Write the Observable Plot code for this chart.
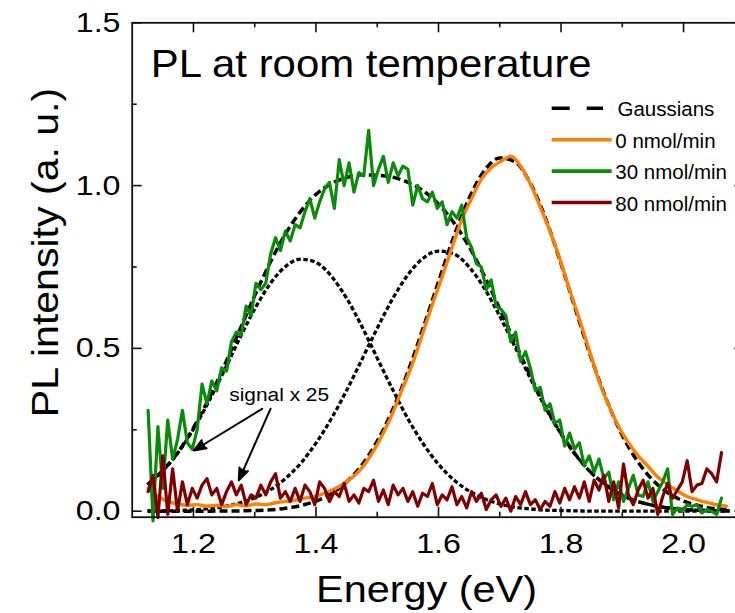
<!DOCTYPE html>
<html><head><meta charset="utf-8">
<script src="https://cdn.jsdelivr.net/npm/d3@7"></script>
<script src="https://cdn.jsdelivr.net/npm/@observablehq/plot@0.6"></script>
<style>
html,body{margin:0;padding:0;background:#fff;overflow:hidden;}
#chart{position:relative;width:735px;height:613px;overflow:hidden;}
</style></head><body><div id="chart"></div>
<script>
// ---- measured spectra (energy grid of the spectrometer) ----
const gridStart = 1.126, gridStep = 0.008;
// 30 nmol/min (signal x 25)
const pl30 = [.31,-.03,.26,.07,.28,.16,.22,.31,.21,.19,
  .25,.39,.33,.40,.37,.44,.43,.52,.55,.54,
  .63,.60,.70,.68,.70,.79,.84,.80,.86,.83,
  .88,.87,.92,.96,.90,.95,.99,1.01,.93,1.08,
  1.00,1.07,.98,1.04,1.03,1.17,1.00,1.05,1.09,1.01,
  1.07,1.03,1.06,1.05,.94,1.00,.96,.95,.98,.93,
  .95,.88,.92,.90,.94,.84,.81,.76,.75,.68,
  .71,.63,.62,.60,.52,.55,.46,.49,.44,.37,
  .38,.31,.33,.27,.28,.20,.24,.19,.21,.14,
  .17,.12,.16,.10,.12,.035,.09,.03,.07,.11,
  .05,.045,.09,.03,.06,.09,.13,-.01,.01,0,
  .02,.015,.02,-.005,.005,0,-.01,.04];
// 80 nmol/min (signal x 25)
const pl80 = [.06,.11,-.02,.17,-.01,.13,.00,.09,.02,.07,
  .04,.08,.10,.05,.07,.02,.06,.09,.05,.08,
  .02,.05,.04,.08,.05,.09,.115,.04,.06,.03,
  .07,.03,.08,.06,.02,.09,.07,.03,.06,.045,
  .085,.03,.05,.025,.07,.06,.095,.03,.065,.02,
  .08,.05,.07,.03,.06,.015,.055,.045,.085,.02,
  .05,.035,.075,.02,.045,.01,.06,.03,.055,.005,
  .035,.05,.015,.04,.0,.045,.02,.06,.02,.035,
  .005,.03,.015,.06,.025,.07,.035,.075,.04,.09,
  .03,.095,.065,.11,.03,.09,.01,.145,.05,.02,
  .065,.095,.04,.07,-.01,.045,.085,.04,.065,.09,
  .155,.06,.08,.085,.13,.115,.09,.18];
// 0 nmol/min
const pl0Start = 1.126, pl0Step = 0.016;
const pl0 = [.070,.045,.030,.022,.018,.020,.015,.018,.014,.020,
  .016,.022,.020,.026,.030,.034,.040,.045,.055,.068,
  .085,.108,.140,.185,.240,.305,.380,.455,.545,.635,
  .720,.810,.895,.960,1.020,1.055,1.075,1.090,1.060,1.005,
  .935,.860,.775,.680,.590,.495,.400,.325,.260,.210,
  .170,.138,.105,.082,.062,.045,.035,.027,.020,.015];

// ---- Gaussian fits ----
const fitEnergy = [1.125,1.15,1.175,1.2,1.225,1.25,1.275,1.3,1.325,1.35,1.375,1.4,1.425,1.45,1.475,1.5,1.525,1.55,1.575,1.6,1.625,1.65,1.675,1.7,1.725,1.75,1.775,1.8,1.825,1.85,1.875,1.9,1.925,1.95,1.975,2.0,2.025,2.05,2.075];
const gauss1 = [.081,.124,.180,.252,.337,.431,.529,.621,.698,.751,.774,.764,.722,.654,.567,.470,.374,.284,.207,.144,.096,.062,.038,.022,.012,.007,.003,.002,.001,0,0,0,0,0,0,0,0,0,0];
const gauss2 = [.001,.001,.002,.004,.008,.014,.025,.041,.065,.100,.147,.209,.284,.371,.466,.562,.652,.726,.777,.799,.790,.750,.684,.599,.505,.408,.317,.237,.170,.117,.078,.049,.030,.018,.010,.005,.003,.001,.001];
const gaussSum = [.082,.125,.182,.256,.345,.445,.554,.662,.763,.851,.921,.973,1.006,1.025,1.033,1.032,1.026,1.010,.984,.943,.886,.812,.722,.621,.517,.415,.320,.239,.171,.117,.078,.049,.030,.018,.010,.005,.003,.001,.001];
const gaussFit0 = [0,0,0,0,.0001,.0003,.0009,.002,.004,.009,.017,.031,.054,.090,.142,.215,.311,.428,.563,.705,.843,.961,1.046,1.085,1.073,1.007,.898,.760,.612,.467,.339,.233,.153,.095,.056,.031,.017,.008,.004];

// ---- axes ----
const xTicksMajor = [1.2,1.4,1.6,1.8,2.0];
const xTicksMinor = [1.3,1.5,1.7,1.9];
const yTicksMajor = [0,0.5,1.0,1.5];
const yTicksMinor = [0.25,0.75,1.25];

// ---- labels ----
const titleText = ["PL at room temperature"];
const xLabel = ["Energy (eV)"];
const yLabel = ["PL intensity (a. u.)"];
const legendLabels = ["Gaussians","0 nmol/min","30 nmol/min","80 nmol/min"];
const legendColors = ["#000000","#FF8000","#0A8C0A","#800000"];
const annotationText = [{E:1.2585, I:0.338, label:"signal x 25"}];
const annotationArrows = [
  {E1:1.3122, I1:0.3145, E2:1.2006, I2:0.1864},
  {E1:1.3258, I1:0.3145, E2:1.2740, I2:0.0946}
];

const toSeries = (vals, start, step) => vals.map((v,i)=>({E:+(start+i*step).toFixed(4), I:v}));
const s30 = toSeries(pl30, gridStart, gridStep);
const s80 = toSeries(pl80, gridStart, gridStep);
const s0 = toSeries(pl0, pl0Start, pl0Step);
const fitRows = (vals) => fitEnergy.map((e,i)=>({E:e, I:vals[i]}));

const FONT = "'Liberation Sans', Arial, Helvetica, sans-serif";
const W = 735, H = 613, ML = 131.7, MR = -9.3, MT = 22.3, MB = 96.3;
const FW = W - ML - MR, FH = H - MT - MB;
const tickStroke = {stroke:"#111", strokeWidth:1.6};
const dotted = {stroke:"#000", strokeWidth:3.3, strokeDasharray:"4.5,2.5", strokeLinecap:"butt", curve:"monotone-x"};
const dashed = {stroke:"#000", strokeWidth:3.5, strokeDasharray:"8,4", strokeLinecap:"butt", curve:"monotone-x"};

const svgEl = Plot.plot({
  width: W, height: H,
  marginLeft: ML, marginRight: MR, marginTop: MT, marginBottom: MB,
  x: {domain:[1.1, 2.1], label:null},
  y: {domain:[-0.0185, 1.5], label:null},
  style: {fontFamily: FONT, background:"white", color:"black", overflow:"hidden"},
  marks: [
    Plot.ruleX(xTicksMajor, {...tickStroke, insetTop: FH - 10}),
    Plot.ruleX(xTicksMajor, {...tickStroke, insetBottom: FH - 10}),
    Plot.ruleX(xTicksMinor, {...tickStroke, insetTop: FH - 5}),
    Plot.ruleX(xTicksMinor, {...tickStroke, insetBottom: FH - 5}),
    Plot.ruleY(yTicksMajor, {...tickStroke, insetRight: FW - 10}),
    Plot.ruleY(yTicksMajor, {...tickStroke, insetLeft: FW - 10}),
    Plot.ruleY(yTicksMinor, {...tickStroke, insetRight: FW - 5}),
    Plot.ruleY(yTicksMinor, {...tickStroke, insetLeft: FW - 5}),
    Plot.line(fitRows(gauss1), {x:"E", y:"I", ...dotted}),
    Plot.line(fitRows(gauss2), {x:"E", y:"I", ...dotted}),
    Plot.line(fitRows(gaussSum), {x:"E", y:"I", ...dashed}),
    Plot.line(fitRows(gaussFit0), {x:"E", y:"I", ...dashed}),
    Plot.line(s0, {x:"E", y:"I", stroke:legendColors[1], strokeWidth:3.4, curve:"monotone-x", strokeLinejoin:"round"}),
    Plot.line(s30, {x:"E", y:"I", stroke:legendColors[2], strokeWidth:3.2, strokeLinejoin:"round"}),
    Plot.line(s80, {x:"E", y:"I", stroke:legendColors[3], strokeWidth:3.2, strokeLinejoin:"round"}),
    Plot.frame({stroke:"#111", strokeWidth:1.8}),
    Plot.axisX(xTicksMajor, {tickSize:0, tickPadding:16, fontSize:28, tickFormat:d3.format(".1f"), label:null}),
    Plot.axisY(yTicksMajor, {tickSize:0, tickPadding:11.7, fontSize:28, tickFormat:d3.format(".1f"), label:null}),
    Plot.arrow(annotationArrows, {x1:"E1", y1:"I1", x2:"E2", y2:"I2", stroke:"black", fill:"black", strokeWidth:2, headLength:9.75, headAngle:42}),
    Plot.text(annotationText, {x:"E", y:"I", text:"label", textAnchor:"start", lineAnchor:"bottom", fontSize:18}),
    Plot.text(titleText, {text:d=>d, frameAnchor:"top-left", textAnchor:"start", lineAnchor:"bottom", dx:18.5, dy:54.4, fontSize:39}),
    Plot.text(xLabel, {text:d=>d, frameAnchor:"bottom", textAnchor:"middle", lineAnchor:"bottom", dx:-12, dy:85, fontSize:37}),
    Plot.text(yLabel, {text:d=>d, frameAnchor:"left", textAnchor:"middle", rotate:-90, lineAnchor:"bottom", dx:-74.7, dy:-17.5, fontSize:37})
  ]
});
document.getElementById("chart").appendChild(svgEl);

// horizontal stretch of text (reference typography is widened); wraps each text in a scaling group
const NS = "http://www.w3.org/2000/svg";
function stretchEl(t, s, vertical) {
  const r = t.getBoundingClientRect();
  const anchor = getComputedStyle(t).textAnchor || "start";
  let px, py;
  if (vertical) { px = r.left + r.width / 2; py = r.top + r.height / 2; }
  else {
    px = anchor === "middle" ? r.left + r.width / 2 : anchor === "end" ? r.right : r.left;
    py = r.top + r.height / 2;
  }
  const parent = t.parentNode;
  const pt = svgEl.createSVGPoint(); pt.x = px; pt.y = py;
  const q = pt.matrixTransform(parent.getScreenCTM().inverse());
  const g = document.createElementNS(NS, "g");
  g.setAttribute("transform", vertical
    ? `translate(0,${q.y}) scale(1,${s}) translate(0,${-q.y})`
    : `translate(${q.x},0) scale(${s},1) translate(${-q.x},0)`);
  parent.insertBefore(g, t); g.appendChild(t);
}
function stretchSel(selector, s) { svgEl.querySelectorAll(selector).forEach(t => stretchEl(t, s, false)); }
function stretchText(str, s, vertical) {
  Array.from(svgEl.querySelectorAll("text")).filter(t => t.textContent === str).forEach(t => stretchEl(t, s, vertical));
}
stretchSel('g[aria-label="x-axis tick label"] text', 1.15);
stretchSel('g[aria-label="y-axis tick label"] text', 1.15);
stretchText(titleText[0], 1.075, false);
stretchText(xLabel[0], 1.12, false);
stretchText(yLabel[0], 1.11, true);
stretchText(annotationText[0].label, 1.16, false);

// legend (inside the frame, top right)
const svg = d3.select(svgEl);
const lg = svg.append("g").attr("font-family", FONT).attr("font-size", 20.5).attr("fill", "black").attr("text-anchor", "start");
legendLabels.forEach((lab, k) => {
  const y = 108.3 + k * 31.4;
  lg.append("line").attr("x1", 551.7).attr("x2", k === 0 ? 603 : 611.7).attr("y1", y).attr("y2", y)
    .attr("stroke", legendColors[k]).attr("stroke-width", 3.6)
    .attr("stroke-dasharray", k === 0 ? "18,17" : null);
  lg.append("text").attr("x", k === 0 ? 617.5 : 615.3).attr("y", y + 8).text(lab);
});
</script></body></html>
